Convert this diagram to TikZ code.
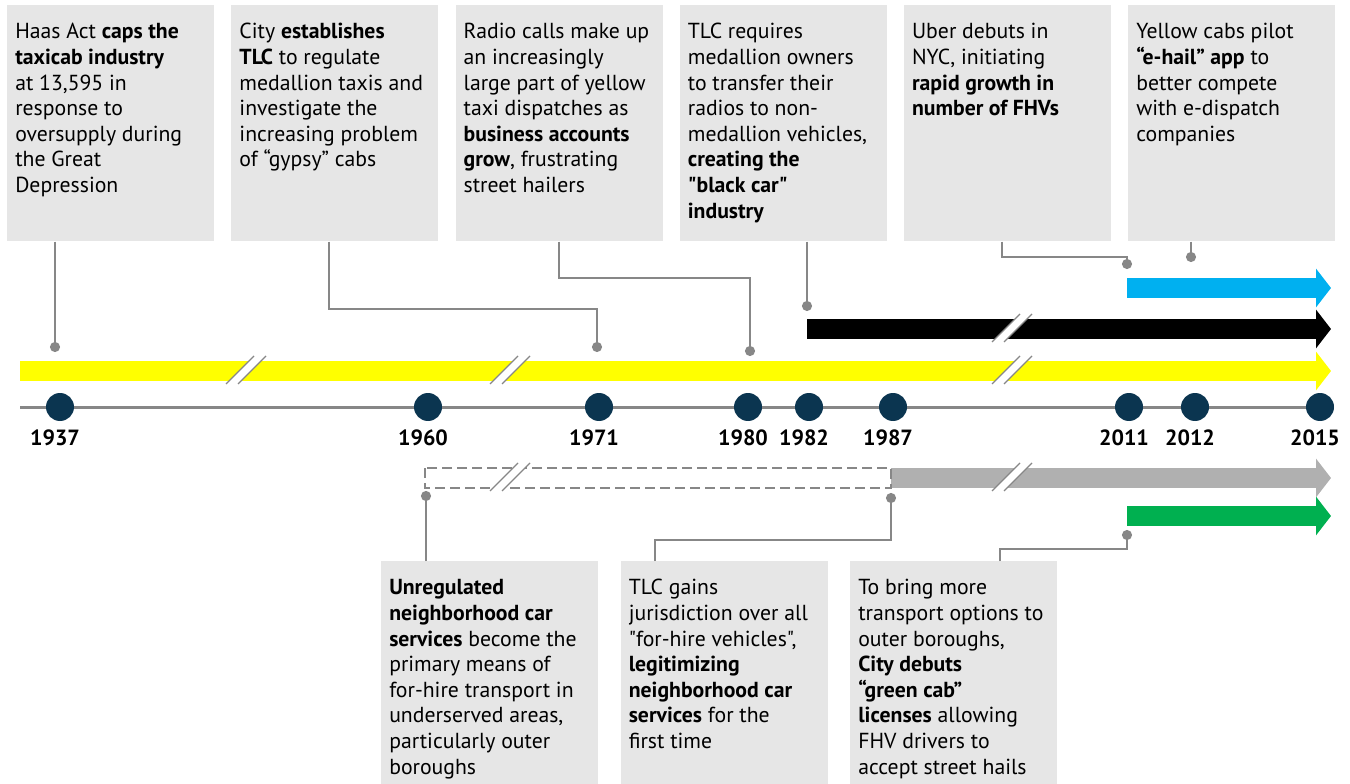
\documentclass[tikz,border=0pt]{standalone}
\usepackage{fontspec}
\setmainfont{PT Sans}[Ligatures=TeXOff]
\usepackage{tikz}
\usetikzlibrary{calc,positioning,arrows.meta}
\definecolor{boxgray}{HTML}{E6E6E6}
\definecolor{pingray}{HTML}{878787}
\definecolor{dotblue}{HTML}{0B3550}
\definecolor{cabyellow}{HTML}{FFFF00}
\definecolor{hailblue}{HTML}{00B0F0}
\definecolor{fhvgray}{HTML}{B0B0B0}
\definecolor{cabgreen}{HTML}{00B050}
\tikzstyle{eventbox} = [rectangle, 
    fill=boxgray, 
    anchor=north west,
    inner xsep=6pt, inner ysep=7.5pt,
    font=\fontsize{16.3}{19.2}\selectfont]
\tikzstyle{pinline} = [draw=pingray, line width=1.5pt, -{Circle[length=7.5pt]}]
\tikzstyle{yeardot} = [circle, fill=dotblue, minimum size=21pt, inner sep=0pt]
\tikzstyle{yearlbl} = [font=\fontsize{16.5}{18}\selectfont\bfseries, inner sep=1pt, xshift=-3.75pt]
\tikzstyle{bar} = [line width=15pt, -{Triangle[length=11.25pt,width=28.5pt]}]
\tikzstyle{breakline} = [draw=pingray, line width=0.9pt]
\newcommand{\evtext}[3]{\parbox[t][#1][t]{#2}{\raggedright\rule{0pt}{17.7pt}#3}}
\newcommand{\barbreak}[2]{%
  \fill[white] (#1-20,#2+13) -- (#1-8,#2+13) -- (#1+20,#2-15) -- (#1+8,#2-15) -- cycle;
  \draw[breakline] (#1-20,#2+13) -- (#1+8,#2-15) (#1-8,#2+13) -- (#1+20,#2-15);}

\begin{document}
\begin{tikzpicture}[x=0.75pt, y=-0.75pt]
  \useasboundingbox (0,0) rectangle (1350,784);
  % top events
  \node [eventbox] (haas) at (7,5) {\evtext{162pt}{143.25pt}{Haas Act \textbf{caps the}\\ \textbf{taxicab industry}\\ at 13,595 in\\ response to\\ oversupply during\\ the Great\\ Depression}};
  \node [eventbox, right=12.5pt of haas.north east, anchor=north west] (tlc) {\evtext{162pt}{143.25pt}{City \textbf{establishes}\\ \textbf{TLC} to regulate\\ medallion taxis and\\ investigate the\\ increasing problem\\ of “gypsy” cabs}};
  \node [eventbox, right=12.5pt of tlc.north east, anchor=north west] (radio) {\evtext{162pt}{143.25pt}{Radio calls make up\\ an increasingly\\ large part of yellow\\ taxi dispatches as\\ \textbf{business accounts}\\ \textbf{grow}, frustrating\\ street hailers}};
  \node [eventbox, right=12.5pt of radio.north east, anchor=north west] (blackcar) {\evtext{162pt}{143.25pt}{TLC requires\\ medallion owners\\ to transfer their\\ radios to non-\\ medallion vehicles,\\ \textbf{creating the}\\ \textbf{"black car"}\\ \textbf{industry}}};
  \node [eventbox, right=12.5pt of blackcar.north east, anchor=north west] (uber) {\evtext{162pt}{143.25pt}{Uber debuts in\\ NYC, initiating\\ \textbf{rapid growth in}\\ \textbf{number of FHVs}}};
  \node [eventbox, right=12.5pt of uber.north east, anchor=north west] (ehail) {\evtext{162pt}{143.25pt}{Yellow cabs pilot\\ \textbf{“e-hail” app} to\\ better compete\\ with e-dispatch\\ companies}};
  % bottom events
  \node [eventbox] (unreg) at (381,561) {\evtext{152pt}{150.75pt}{\textbf{Unregulated}\\ \textbf{neighborhood car}\\ \textbf{services} become the\\ primary means of\\ for-hire transport in\\ underserved areas,\\ particularly outer\\ boroughs}};
  \node [eventbox, right=16.5pt of unreg.north east, anchor=north west] (fhvlaw) {\evtext{152pt}{143.25pt}{TLC gains\\ jurisdiction over all\\ "for-hire vehicles",\\ \textbf{legitimizing}\\ \textbf{neighborhood car}\\ \textbf{services} for the\\ first time}};
  \node [eventbox, right=16.5pt of fhvlaw.north east, anchor=north west] (greencab) {\evtext{152pt}{143.25pt}{To bring more\\ transport options to\\ outer boroughs,\\ \textbf{City debuts}\\ \textbf{“green cab”}\\ \textbf{licenses} allowing\\ FHV drivers to\\ accept street hails}};

  % bars
  \draw [bar, cabyellow] (20,371) -- (1331,371);
  \draw [bar, black] (807,329) -- (1331,329);
  \draw [bar, hailblue] (1127,288) -- (1331,288);
  \draw [bar, fhvgray] (891,478) -- (1331,478);
  \draw [bar, cabgreen] (1127,516) -- (1331,516);
  \draw [draw=pingray, line width=1.1pt, dash pattern=on 7.5pt off 3.75pt] (425,468) rectangle (891,488);
  \barbreak{246}{371}
  \barbreak{510}{371}
  \barbreak{1012}{371}
  \barbreak{1012}{329}
  \barbreak{1012}{478}
  \barbreak{510}{478}

  % timeline
  \draw [pingray, line width=2.25pt] (20,407) -- (1330,407);
  \node [yeardot] (y1937) at (60,407) {};
  \node [yeardot] (y1960) at (428,407) {};
  \node [yeardot] (y1971) at (599,407) {};
  \node [yeardot] (y1980) at (748,407) {};
  \node [yeardot] (y1982) at (809,407) {};
  \node [yeardot] (y1987) at (893,407) {};
  \node [yeardot] (y2011) at (1129,407) {};
  \node [yeardot] (y2012) at (1195,407) {};
  \node [yeardot] (y2015) at (1320,407) {};
  \node [yearlbl, below=5pt of y1937] (l1937) {1937};
  \node [yearlbl, below=5pt of y1960] (l1960) {1960};
  \node [yearlbl, below=5pt of y1971] (l1971) {1971};
  \node [yearlbl, below=5pt of y1980] (l1980) {1980};
  \node [yearlbl, below=5pt of y1982] (l1982) {1982};
  \node [yearlbl, below=5pt of y1987] (l1987) {1987};
  \node [yearlbl, below=5pt of y2011] (l2011) {2011};
  \node [yearlbl, below=5pt of y2012] (l2012) {2012};
  \node [yearlbl, below=5pt of y2015] (l2015) {2015};

  % pins
  \coordinate (pin1937) at (55,352);
  \coordinate (pin1971) at (597,352);
  \coordinate (pin1980) at (750,356);
  \coordinate (pin1982) at (807,311);
  \coordinate (pin2011top) at (1127,269);
  \coordinate (pin2012) at (1191,262);
  \coordinate (pin1960) at (426,491);
  \coordinate (pin1987) at (891,493);
  \coordinate (pin2011bot) at (1127,530);
  \draw [pinline] (pin1937 |- haas.south) -- (pin1937);
  \draw [pinline] ($(tlc.south west)+(98,0)$) -- ++(0,67) -| (pin1971);
  \draw [pinline] ($(radio.south west)+(104,0)$) -- ++(0,36) -| (pin1980);
  \draw [pinline] (pin1982 |- blackcar.south) -- (pin1982);
  \draw [pinline] ($(uber.south west)+(98,0)$) -- ++(0,15) -| (pin2011top);
  \draw [pinline] (pin2012 |- ehail.south) -- (pin2012);
  \draw [pinline] (pin1960 |- unreg.north) -- (pin1960);
  \draw [pinline] ($(fhvlaw.north west)+(34,0)$) -- ++(0,-21) -| (pin1987);
  \draw [pinline] ($(greencab.north west)+(150,0)$) -- ++(0,-12) -| (pin2011bot);
\end{tikzpicture}
\end{document}
